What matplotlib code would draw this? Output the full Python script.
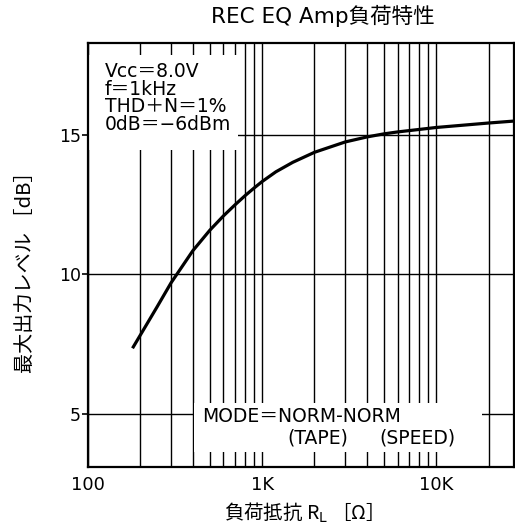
"""
REC EQ Amp load characteristic (max output level vs load resistance)
"""
import matplotlib
matplotlib.use("Agg")
import matplotlib.pyplot as plt
from matplotlib.patches import Rectangle
from matplotlib.ticker import FixedLocator, NullFormatter

plt.rcParams['font.family'] = ['DejaVu Sans', 'Noto Sans CJK JP']
JP = ['Noto Sans CJK JP', 'DejaVu Sans']

# load resistance [ohm] and max output level [dB]
load_r = [180, 200, 250, 300, 400, 500, 600, 700, 800, 900, 1000, 1200,
          1500, 2000, 3000, 4000, 5000, 6000, 8000, 10000, 20000, 28000]
out_db = [7.35, 7.83, 8.85, 9.7, 10.85, 11.58, 12.1, 12.5, 12.83, 13.1,
          13.33, 13.68, 14.02, 14.38, 14.75, 14.93, 15.04, 15.11, 15.2,
          15.27, 15.43, 15.5]

x_major = [100, 1000, 10000]
x_labels = ['100', '1K', '10K']
x_minor = [200, 300, 400, 500, 600, 700, 800, 900,
           2000, 3000, 4000, 5000, 6000, 7000, 8000, 9000, 20000]
y_ticks = [5, 10, 15]

fig = plt.figure(figsize=(5.15, 5.31), dpi=100)
ax = fig.add_axes([0.171, 0.121, 0.827, 0.798])

ax.set_xscale('log')
ax.set_xlim(100, 28000)
ax.set_ylim(3.1, 18.3)

# grid: every decade sub-line, and 5/10/15 dB
ax.xaxis.set_major_locator(FixedLocator(x_major))
ax.set_xticklabels(x_labels)
ax.xaxis.set_minor_locator(FixedLocator(x_minor))
ax.xaxis.set_minor_formatter(NullFormatter())
ax.set_yticks(y_ticks)
ax.grid(True, which='both', axis='x', color='black', linewidth=1.0)
ax.grid(True, which='major', axis='y', color='black', linewidth=1.0)

ax.tick_params(axis='x', which='both', length=0, pad=7, labelsize=13)
ax.tick_params(axis='y', direction='out', length=4, width=1.2, pad=1,
               labelsize=12.5)
for s in ax.spines.values():
    s.set_linewidth(1.6)

ax.plot(load_r, out_db, color='black', linewidth=2.3, zorder=4,
        solid_capstyle='butt')

# white areas behind the notes (they hide the grid)
ax.add_patch(Rectangle((0.0, 0.748), 0.352, 0.224, transform=ax.transAxes,
                       facecolor='white', edgecolor='none', zorder=2.5))
ax.add_patch(Rectangle((0.248, 0.035), 0.925 - 0.248, 0.116,
                       transform=ax.transAxes,
                       facecolor='white', edgecolor='none', zorder=2.5))

ax.text(0.04, 0.955, 'Vcc＝8.0V\nf＝1kHz\nTHD＋N＝1%\n0dB＝−6dBm',
        transform=ax.transAxes, ha='left', va='top', fontsize=13.5,
        linespacing=0.9, zorder=5)
ax.text(0.268, 0.118, 'MODE＝NORM-NORM', transform=ax.transAxes,
        ha='left', va='center', fontsize=13.5, zorder=5)
ax.text(0.467, 0.068, '(TAPE)', transform=ax.transAxes,
        ha='left', va='center', fontsize=13.5, zorder=5)
ax.text(0.685, 0.068, '(SPEED)', transform=ax.transAxes,
        ha='left', va='center', fontsize=13.5, zorder=5)

fig.text(0.627, 0.970, 'REC EQ Amp負荷特性', ha='center', va='center',
         fontsize=15.5)
fig.text(0.579, 0.034, '負荷抵抗 R$_{\\mathrm{L}}$ ［Ω］', ha='center',
         va='center', fontsize=14, family=JP)
fig.text(0.049, 0.497, '最大出力レベル ［dB］', ha='center', va='center',
         rotation=90, fontsize=14.5, family=JP)

fig.savefig('out.png', dpi=100)
